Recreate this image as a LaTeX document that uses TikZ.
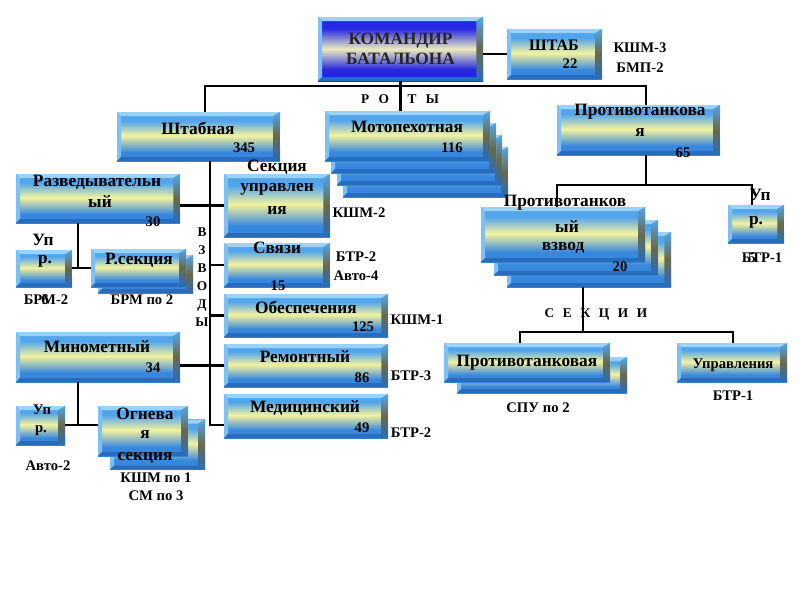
\documentclass[tikz,border=0pt]{standalone}
\usepackage{fontspec}
\setmainfont{Liberation Serif}
\definecolor{bxTop}{RGB}{82,165,235}
\definecolor{bxMid}{RGB}{244,242,158}
\definecolor{bxBot}{RGB}{55,135,222}
\definecolor{bxHi}{RGB}{155,210,248}
\definecolor{bxLo}{RGB}{40,108,190}
\definecolor{bxSide}{RGB}{105,105,75}
\definecolor{cmTop}{RGB}{40,40,228}
\definecolor{cmMid}{RGB}{236,236,192}
\definecolor{cmBot}{RGB}{38,38,222}
\pgfdeclareverticalshading{unitshade}{100bp}{color(0bp)=(bxBot); color(25bp)=(bxBot); color(34bp)=(bxBot); color(51bp)=(bxMid); color(66bp)=(bxTop); color(75bp)=(bxTop); color(100bp)=(bxTop)}
\pgfdeclareverticalshading{cmdshade}{100bp}{color(0bp)=(cmBot); color(25bp)=(cmBot); color(34bp)=(cmBot); color(50bp)=(cmMid); color(66bp)=(cmTop); color(75bp)=(cmTop); color(100bp)=(cmTop)}
\tikzset{
  box/.style={inner sep=0pt, outer sep=0pt, shade, shading=unitshade,
    path picture={
      \fill[bxHi] (path picture bounding box.north west) -- (path picture bounding box.north east)
        -- ([shift={(-5pt,-3pt)}]path picture bounding box.north east)
        -- ([shift={(3pt,-3pt)}]path picture bounding box.north west) -- cycle;
      \fill[bxHi!60!bxTop] (path picture bounding box.north west)
        -- ([shift={(3pt,-3pt)}]path picture bounding box.north west)
        -- ([shift={(3pt,3pt)}]path picture bounding box.south west)
        -- (path picture bounding box.south west) -- cycle;
      \fill[bxLo] (path picture bounding box.south west)
        -- ([shift={(3pt,3pt)}]path picture bounding box.south west)
        -- ([shift={(-5pt,3pt)}]path picture bounding box.south east)
        -- (path picture bounding box.south east) -- cycle;
      \shade[top color=bxTop, bottom color=bxLo, middle color=bxSide]
        (path picture bounding box.north east)
        -- ([shift={(-5pt,-3pt)}]path picture bounding box.north east)
        -- ([shift={(-5pt,3pt)}]path picture bounding box.south east)
        -- (path picture bounding box.south east) -- cycle;
    }},
  cmdbox/.style={box, shading=cmdshade},
  sz/.style 2 args={minimum width=#1*0.75pt, minimum height=#2*0.75pt},
  ttl/.style={font=\fontsize{13}{15}\selectfont\bfseries, inner sep=0pt},
  lbl/.style={font=\fontsize{11}{13}\selectfont\bfseries, inner sep=0pt},
  spc/.style={font=\fontsize{10}{13.5}\selectfont\bfseries, inner sep=0pt, align=center},
  link/.style={line width=2pt, black},
}
\begin{document}
\begin{tikzpicture}[x=0.75pt, y=-0.75pt]
  \useasboundingbox (0,0) rectangle (800,600);
  % boxes, back copies first
  \node[cmdbox, sz={165}{64}, ttl, align=center, text=black!85] (kb) at (400.5,49) {КОМАНДИР\\БАТАЛЬОНА};
  \node[box, sz={95}{50}] (sht) at (554.5,54) {};
  \node[box, sz={163}{49}] (shb) at (198.5,136.5) {};
  \node[box, sz={165}{50}] (mp3) at (425.5,172) {};
  \node[box, sz={165}{50}] (mp2) at (419.5,160) {};
  \node[box, sz={165}{50}] (mp1) at (413.5,148) {};
  \node[box, sz={165}{50}] (mp) at (407.5,136) {};
  \node[box, sz={163}{50}] (ptr) at (638.5,130) {};
  \node[box, sz={164}{55}] (ptv2) at (589,259.5) {};
  \node[box, sz={164}{55}] (ptv1) at (576,247.5) {};
  \node[box, sz={164}{55}] (ptv) at (563,234.5) {};
  \node[box, sz={56}{38}] (uprR) at (756,224) {};
  \node[box, sz={170}{36}] (pts1) at (542,375) {};
  \node[box, sz={166}{39}] (pts) at (527,362.5) {};
  \node[box, sz={110}{39}] (upl) at (732,362.5) {};
  \node[box, sz={164}{49}] (rzv) at (98,198.5) {};
  \node[box, sz={56}{37}] (uprA) at (44,268.5) {};
  \node[box, sz={95}{38}] (rsk1) at (145.5,274) {};
  \node[box, sz={95}{38}] (rsk) at (138.5,268) {};
  \node[box, sz={106}{63}] (su) at (277,205.5) {};
  \node[box, sz={106}{44}] (sv) at (277,265) {};
  \node[box, sz={164}{43}] (ob) at (306,315.5) {};
  \node[box, sz={164}{43}] (rm) at (306,365.5) {};
  \node[box, sz={164}{44}] (md) at (306,416) {};
  \node[box, sz={164}{50}] (mn) at (98,357) {};
  \node[box, sz={49}{39}] (uprB) at (40.5,425.5) {};
  \node[box, sz={95}{50}] (og1) at (157.5,444.5) {};
  \node[box, sz={90}{50}] (og) at (143,431) {};

  % connectors
  \coordinate (rl) at (205,86);
  \coordinate (rr) at (646,86);
  \coordinate (vm) at (646,185);
  \coordinate (vl) at (557,185);
  \coordinate (vr) at (752,185);
  \coordinate (sk) at (583,332);
  \coordinate (skl) at (520,332);
  \coordinate (skr) at (733,332);
  \coordinate (tr) at (210,425);
  \coordinate (rz) at (78,268);
  \coordinate (mz) at (78,425);
  \begin{scope}[link]
    \draw (kb.east |- sht.west) -- (sht.west);
    \draw (kb.south) -- (kb.south |- mp.north);
    \draw (rl |- shb.north) -- (rl) -- (rr) -- (rr |- ptr.north);
    \draw (vm |- ptr.south) -- (vm);
    \draw (vl |- ptv.north) -- (vl) -- (vr) -- (vr |- uprR.north);
    \draw (sk |- ptv2.south) -- (sk);
    \draw (skl |- pts.north) -- (skl) -- (skr) -- (skr |- upl.north);
    \draw (tr |- shb.south) -- (tr) -- (tr -| md.west);
    \draw (rzv.east |- su.west) -- (su.west);
    \draw (tr |- sv.west) -- (sv.west);
    \draw (tr |- ob.west) -- (ob.west);
    \draw (mn.east |- rm.west) -- (rm.west);
    \draw (rz |- rzv.south) -- (rz);
    \draw (uprA.east |- rz) -- (rsk.west |- rz);
    \draw (mz |- mn.south) -- (mz);
    \draw (uprB.east |- mz) -- (og.west |- mz);
  \end{scope}

  % texts
  \node[ttl, font=\fontsize{12}{14}\selectfont\bfseries] (tSht) at (554,45) {ШТАБ};
  \node[lbl] (nSht) at (570,64) {22};
  \node[lbl, align=center, font=\fontsize{11}{15}\selectfont\bfseries] (lSht) at (640,58) {КШМ-3\\БМП-2};
  \node[spc] (tRoty) at (400,99) {Р\hspace{7pt}О\hspace{14pt}Т\hspace{7pt}Ы};
  \node[ttl] (tShb) at (198,128) {Штабная};
  \node[lbl] (nShb) at (244,148) {345};
  \node[ttl] (tMp) at (407,127) {Мотопехотная};
  \node[lbl] (nMp) at (452,148) {116};
  \node[ttl] (tPtr) at (640,112) {Противотанкова};
  \node[ttl] (tPtr2) at (640,133) {я};
  \node[lbl] (nPtr) at (683,153) {65};
  \node[ttl] (tPtv) at (565,203) {Противотанков};
  \node[ttl] (tPtv2) at (567,227) {ый};
  \node[ttl] (tPtv3) at (563,248) {взвод};
  \node[lbl] (nPtv) at (620,267) {20};
  \node[ttl] (tUprR) at (760,195) {Уп};
  \node[ttl] (tUprR2) at (756,222) {р.};
  \node[lbl] (lUprR) at (762,258) {БТР-1};
  \node[lbl] (nUprR) at (752,258) {5};
  \node[spc] (tSek) at (596,315) {С\hspace{6.5pt}Е\hspace{6.5pt}К\hspace{6.5pt}Ц\hspace{6.5pt}И\hspace{6.5pt}И};
  \node[ttl] (tPts) at (527,363) {Противотанковая};
  \node[lbl] (lPts) at (538,408) {СПУ по 2};
  \node[lbl] (tUpl) at (733,365) {Управления};
  \node[lbl] (lUpl) at (733,396) {БТР-1};
  \node[ttl] (tRzv) at (97,182) {Разведывательн};
  \node[ttl] (tRzv2) at (100,202) {ый};
  \node[lbl] (nRzv) at (153,222) {30};
  \node[ttl] (tUprA) at (43,240) {Уп};
  \node[ttl] (tUprA2) at (45,261) {р.};
  \node[lbl] (lUprA) at (46,300) {БРМ-2};
  \node[lbl] (nUprA) at (45,300) {6};
  \node[ttl] (tRsk) at (139,260) {Р.секция};
  \node[lbl] (lRsk) at (142,300) {БРМ по 2};
  \node[spc] (tVzv) at (202,277) {В\\З\\В\\О\\Д\\Ы};
  \node[ttl] (tSu) at (277,167) {Секция};
  \node[ttl] (tSu2) at (277,189) {управлен};
  \node[ttl] (tSu3) at (277,211) {ия};
  \node[lbl] (lSu) at (359,213) {КШМ-2};
  \node[ttl] (tSv) at (277,248) {Связи};
  \node[lbl] (nSv) at (278,286) {15};
  \node[lbl, align=center, font=\fontsize{11}{14}\selectfont\bfseries] (lSv) at (356,266) {БТР-2\\Авто-4};
  \node[ttl] (tOb) at (306,307) {Обеспечения};
  \node[lbl] (nOb) at (363,327) {125};
  \node[lbl] (lOb) at (417,320) {КШМ-1};
  \node[ttl] (tRm) at (305,357) {Ремонтный};
  \node[lbl] (nRm) at (362,378) {86};
  \node[lbl] (lRm) at (411,376) {БТР-3};
  \node[ttl] (tMd) at (305,408) {Медицинский};
  \node[lbl] (nMd) at (362,428) {49};
  \node[lbl] (lMd) at (411,433) {БТР-2};
  \node[ttl] (tMn) at (97,347) {Минометный};
  \node[lbl] (nMn) at (153,368) {34};
  \node[lbl] (tUprB) at (42,410) {Уп};
  \node[lbl] (tUprB2) at (41,431) {р.};
  \node[lbl] (lUprB) at (48,466) {Авто-2};
  \node[ttl] (tOg) at (145,414) {Огнева};
  \node[ttl] (tOg2) at (145,435) {я};
  \node[ttl] (tOg3) at (145,458) {секция};
  \node[lbl, align=center, font=\fontsize{11}{13.5}\selectfont\bfseries] (lOg) at (156,487) {КШМ по 1\\СМ по 3};
\end{tikzpicture}
\end{document}
